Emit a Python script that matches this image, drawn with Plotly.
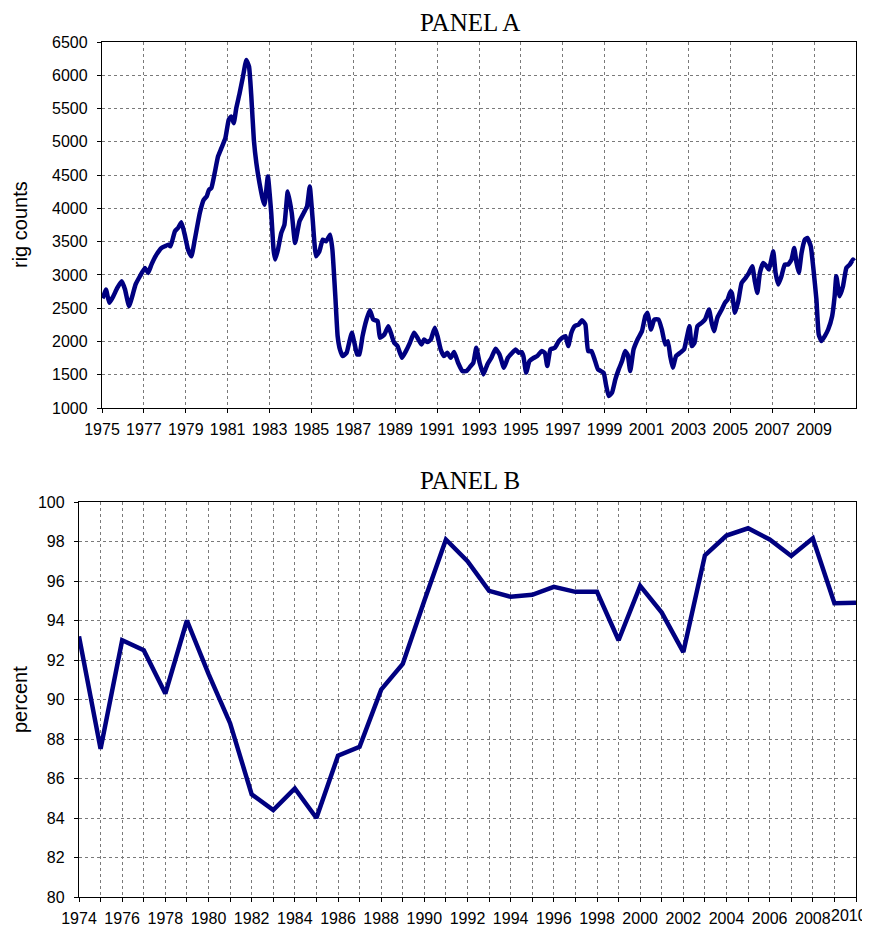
import plotly.graph_objects as go

# Panel A: rig counts (decimal years)
a_year = [
    1975.02, 1975.10, 1975.19, 1975.35, 1975.54, 1975.73, 1975.94, 1976.10, 1976.29, 1976.49,
    1976.60, 1976.81, 1977.05, 1977.20, 1977.36, 1977.60, 1977.84, 1978.00, 1978.16, 1978.27,
    1978.48, 1978.63, 1978.79, 1978.95, 1979.11, 1979.27, 1979.43, 1979.67, 1979.86, 1980.00,
    1980.11, 1980.22, 1980.38, 1980.54, 1980.70, 1980.89, 1981.05, 1981.17, 1981.29, 1981.41,
    1981.57, 1981.73, 1981.89, 1982.02, 1982.13, 1982.25, 1982.37, 1982.52, 1982.68, 1982.76,
    1982.92, 1983.08, 1983.19, 1983.27, 1983.40, 1983.56, 1983.71, 1983.87, 1984.06, 1984.22,
    1984.43, 1984.63, 1984.79, 1984.92, 1985.06, 1985.22, 1985.38, 1985.54, 1985.70, 1985.89,
    1986.00, 1986.14, 1986.25, 1986.36, 1986.49, 1986.68, 1986.80, 1986.93, 1987.05, 1987.18,
    1987.29, 1987.44, 1987.63, 1987.79, 1987.95, 1988.16, 1988.27, 1988.48, 1988.67, 1988.79,
    1988.95, 1989.11, 1989.32, 1989.51, 1989.70, 1989.90, 1990.06, 1990.25, 1990.38, 1990.54,
    1990.70, 1990.89, 1991.02, 1991.17, 1991.33, 1991.49, 1991.65, 1991.81, 1992.00, 1992.21,
    1992.41, 1992.60, 1992.73, 1992.87, 1993.03, 1993.21, 1993.40, 1993.59, 1993.79, 1993.98,
    1994.19, 1994.38, 1994.59, 1994.75, 1994.90, 1995.03, 1995.12, 1995.25, 1995.41, 1995.62,
    1995.78, 1995.99, 1996.14, 1996.26, 1996.41, 1996.62, 1996.81, 1996.97, 1997.13, 1997.26,
    1997.41, 1997.57, 1997.76, 1997.92, 1998.08, 1998.21, 1998.37, 1998.52, 1998.68, 1998.95,
    1999.06, 1999.19, 1999.35, 1999.51, 1999.67, 1999.83, 1999.98, 2000.10, 2000.22, 2000.38,
    2000.57, 2000.78, 2000.94, 2001.05, 2001.21, 2001.37, 2001.57, 2001.73, 2001.89, 2002.02,
    2002.13, 2002.25, 2002.41, 2002.60, 2002.79, 2002.92, 2003.05, 2003.16, 2003.29, 2003.43,
    2003.63, 2003.79, 2003.98, 2004.11, 2004.22, 2004.38, 2004.59, 2004.74, 2004.87, 2005.01,
    2005.08, 2005.22, 2005.38, 2005.54, 2005.73, 2005.89, 2006.05, 2006.17, 2006.29, 2006.41,
    2006.57, 2006.73, 2006.84, 2006.94, 2007.05, 2007.16, 2007.29, 2007.44, 2007.60, 2007.76,
    2007.92, 2008.05, 2008.16, 2008.27, 2008.40, 2008.56, 2008.68, 2008.84, 2008.97, 2009.11,
    2009.22, 2009.35, 2009.51, 2009.67, 2009.86, 2009.98, 2010.06, 2010.22, 2010.38, 2010.54,
    2010.70, 2010.86, 2010.92,
]
a_rigs = [
    2650, 2705, 2780, 2580, 2680, 2805, 2905, 2780, 2530, 2730,
    2855, 2980, 3105, 3030, 3155, 3305, 3405, 3430, 3455, 3430,
    3655, 3705, 3790, 3605, 3380, 3280, 3530, 3930, 4130, 4180,
    4280, 4305, 4530, 4780, 4905, 5055, 5330, 5380, 5280, 5505,
    5730, 5980, 6230, 6130, 5680, 5030, 4680, 4380, 4130, 4055,
    4480, 3930, 3380, 3230, 3380, 3630, 3755, 4255, 3930, 3480,
    3805, 3930, 4030, 4330, 3830, 3280, 3355, 3530, 3505, 3605,
    3380, 2680, 2080, 1880, 1780, 1830, 1980, 2130, 1980, 1805,
    1805, 2080, 2330, 2470, 2330, 2305, 2055, 2105, 2230, 2130,
    1980, 1930, 1755, 1855, 1980, 2130, 2055, 1955, 2030, 1990,
    2030, 2205, 2080, 1880, 1780, 1830, 1755, 1840, 1680, 1555,
    1555, 1630, 1680, 1905, 1680, 1505, 1655, 1755, 1890, 1805,
    1605, 1755, 1830, 1880, 1830, 1840, 1780, 1530, 1705, 1755,
    1780, 1855, 1830, 1630, 1880, 1905, 2005, 2055, 2080, 1930,
    2130, 2230, 2255, 2320, 2255, 1855, 1855, 1730, 1580, 1530,
    1355, 1180, 1230, 1430, 1580, 1705, 1855, 1800, 1555, 1880,
    2030, 2155, 2380, 2430, 2180, 2330, 2330, 2180, 1955, 2005,
    1780, 1605, 1780, 1830, 1880, 2055, 2230, 1930, 1980, 2230,
    2280, 2330, 2480, 2280, 2155, 2355, 2480, 2580, 2630, 2755,
    2720, 2430, 2605, 2880, 2955, 3030, 3130, 2905, 2730, 3030,
    3180, 3130, 3080, 3205, 3355, 3030, 2855, 2980, 3155, 3155,
    3230, 3405, 3180, 3030, 3330, 3530, 3555, 3430, 3080, 2630,
    2105, 2005, 2080, 2180, 2380, 2680, 2980, 2680, 2830, 3105,
    3155, 3230, 3210,
]
a_ticks = [1975, 1977, 1979, 1981, 1983, 1985, 1987, 1989, 1991, 1993,
           1995, 1997, 1999, 2001, 2003, 2005, 2007, 2009]

# Panel B: percent, annual
b_year = list(range(1974, 2011))
b_pct = [
    93.2, 87.5, 93.0, 92.5, 90.3, 94.0, 91.3, 88.8, 85.2, 84.4,
    85.5, 84.0, 87.15, 87.6, 90.5, 91.8, 95.0, 98.1, 97.0, 95.5,
    95.2, 95.3, 95.7, 95.45, 95.45, 93.0, 95.75, 94.4, 92.4, 97.3,
    98.3, 98.67, 98.1, 97.27, 98.16, 94.87, 94.9,
]
b_ticks = [1974, 1976, 1978, 1980, 1982, 1984, 1986, 1988, 1990, 1992,
           1994, 1996, 1998, 2000, 2002, 2004, 2006, 2008]

navy = "#000080"
W, H = 870, 927
OX, OY = 8, 8  # page body margin


def px(x):
    return (x - OX) / W


def py(y):
    return 1 - (y - OY) / H


fig = go.Figure()
fig.add_trace(go.Scatter(x=a_year, y=a_rigs, mode="lines",
                         line=dict(color=navy, width=4.5, shape="spline", smoothing=0.4),
                         xaxis="x", yaxis="y", showlegend=False))
fig.add_trace(go.Scatter(x=b_year, y=b_pct, mode="lines",
                         line=dict(color=navy, width=4.5),
                         xaxis="x2", yaxis="y2", showlegend=False))

tickfont = dict(family="Liberation Sans, Arial", size=16, color="black")
grid = dict(showgrid=True, gridcolor="#7a7a7a", gridwidth=1, griddash="dot")
axline = dict(showline=True, linecolor="black", linewidth=1.3, mirror=True,
              ticks="outside", ticklen=4, tickcolor="black", tickfont=tickfont,
              zeroline=False, automargin=False)

fig.update_layout(
    width=W, height=H,
    margin=dict(l=0, r=0, t=0, b=0),
    paper_bgcolor="white", plot_bgcolor="white",
    xaxis=dict(domain=[px(102), px(856)], anchor="y", range=[1975, 2011],
               tickvals=a_ticks, tickformat="d", ticklabelstandoff=3, **grid, **axline),
    yaxis=dict(domain=[py(408), py(42)], anchor="x", range=[1000, 6500],
               dtick=500, tickformat="d", ticklabelstandoff=6, **grid, **axline),
    xaxis2=dict(domain=[px(79), px(856)], anchor="y2", range=[1974, 2010],
                tickvals=b_ticks, tickformat="d", ticklabelstandoff=3, **grid, **axline,
                minor=dict(dtick=1, showgrid=True, gridcolor="#7a7a7a", griddash="dot",
                           ticks="outside", ticklen=4, tickcolor="black")),
    yaxis2=dict(domain=[py(897), py(502)], anchor="x2", range=[80, 100],
                dtick=2, tickformat="d", ticklabelstandoff=6, **grid, **axline),
)

title_font = dict(family="Liberation Serif, Times New Roman", size=25, color="black")
label_font = dict(family="Liberation Sans, Arial", size=20, color="black")
fig.add_annotation(text="PANEL A", x=px(470), y=py(8), xref="paper", yref="paper",
                   showarrow=False, font=title_font, xanchor="center", yanchor="top",
                   borderpad=0)
fig.add_annotation(text="PANEL B", x=px(470), y=py(480), xref="paper", yref="paper",
                   showarrow=False, font=title_font, xanchor="center", yanchor="middle")
fig.add_annotation(text="rig counts", x=px(20), y=py(225), xref="paper", yref="paper",
                   showarrow=False, font=label_font, textangle=-90,
                   xanchor="center", yanchor="middle")
fig.add_annotation(text="percent", x=px(20), y=py(700), xref="paper", yref="paper",
                   showarrow=False, font=label_font, textangle=-90,
                   xanchor="center", yanchor="middle")
# last year label of panel B sits against the right edge
fig.add_annotation(text="2010", x=px(869), y=py(915), xref="paper", yref="paper",
                   showarrow=False, font=tickfont, xanchor="right", yanchor="middle")

fig.write_html("out.html")
